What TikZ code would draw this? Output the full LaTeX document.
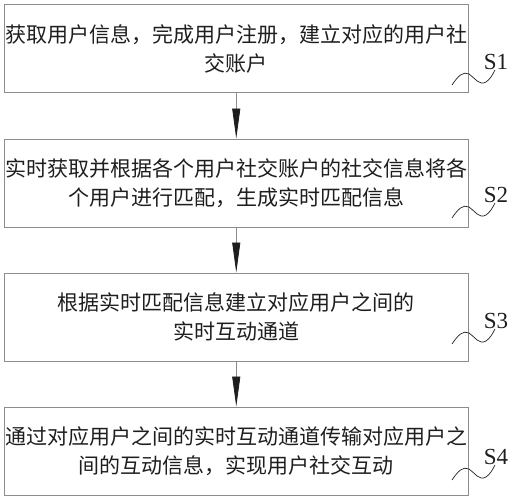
\documentclass[tikz,border=0pt]{standalone}
\usepackage{fontspec}
\setmainfont{Liberation Serif}
\newfontfamily\cjk{Noto Sans CJK SC}
\usetikzlibrary{arrows.meta}
\definecolor{boxgray}{HTML}{8C8C8C}
\definecolor{inkdark}{HTML}{1E1E1E}
\begin{document}
\begin{tikzpicture}[x=1pt,y=-1pt,
  stepbox/.style={draw=boxgray,line width=0.9pt,minimum width=463.5pt,minimum height=88pt,
    inner sep=0pt,align=center,text=inkdark,font=\cjk\fontsize{21}{28.5}\selectfont},
  flow/.style={draw=boxgray,line width=0.8pt,-{Triangle[length=30pt,width=8pt,color=inkdark]}},
  slabel/.style={font=\fontsize{23}{23}\selectfont,text=inkdark,inner sep=0pt},
  wave/.style={draw=inkdark,line width=0.7pt}]
\useasboundingbox (0,0) rectangle (510,500);
\node[stepbox] (b1) at (236.25,48.75) {获取用户信息，完成用户注册，建立对应的用户社\\交账户};
\node[stepbox] (b2) at (236.25,183) {实时获取并根据各个用户社交账户的社交信息将各\\个用户进行匹配，生成实时匹配信息};
\node[stepbox] (b3) at (236.25,317) {根据实时匹配信息建立对应用户之间的\\实时互动通道};
\node[stepbox] (b4) at (236.25,451) {通过对应用户之间的实时互动通道传输对应用户之\\间的互动信息，实现用户社交互动};
\draw[flow] (b1) -- (b2);
\draw[flow] (b2) -- (b3);
\draw[flow] (b3) -- (b4);
\foreach \i/\y in {1/62,2/195,3/321,4/457}{
  \node[slabel] (s\i) at (496,\y) {S\i};
  \coordinate (w\i) at (452,\y+23);
  \draw[wave] (w\i) .. controls (458,\y+14) and (463,\y+9) .. (469,\y+12)
     .. controls (475,\y+16) and (479,\y+24) .. (486,\y+20)
     .. controls (490,\y+17) and (492,\y+14) .. ([xshift=-1pt]s\i.south);
}
\end{tikzpicture}
\end{document}
